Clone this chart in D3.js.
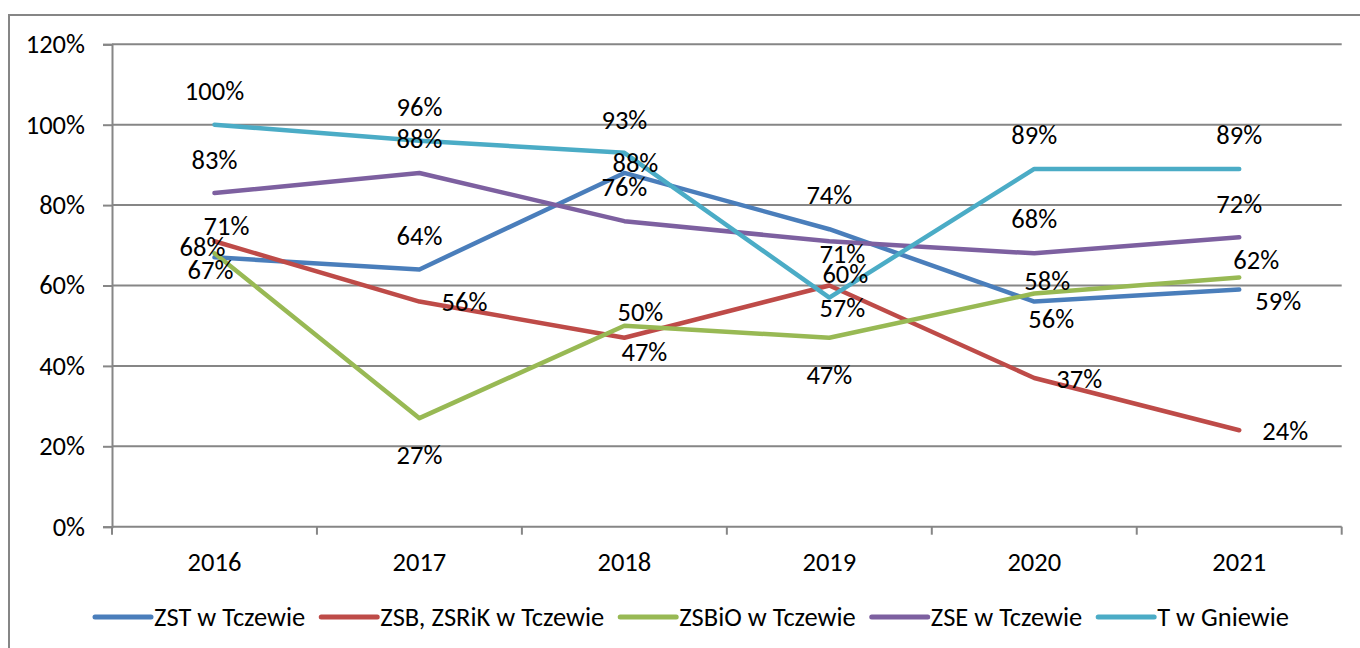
<!DOCTYPE html>
<html>
<head>
<meta charset="utf-8">
<script src="https://cdn.jsdelivr.net/npm/d3@7"></script>
<style>
  html, body { margin: 0; padding: 0; background: #fff; }
  svg { display: block; font-family: Carlito, Calibri, Lato, sans-serif; }
</style>
</head>
<body>
<div id="chart"></div>
<script>
// data
const years = ["2016", "2017", "2018", "2019", "2020", "2021"];
const seriesNames = ["ZST w Tczewie", "ZSB, ZSRiK w Tczewie", "ZSBiO w Tczewie", "ZSE w Tczewie", "T w Gniewie"];
const zst   = [0.67, 0.64, 0.88, 0.74, 0.56, 0.59];
const zsb   = [0.71, 0.56, 0.47, 0.60, 0.37, 0.24];
const zsbio = [0.68, 0.27, 0.50, 0.47, 0.58, 0.62];
const zse   = [0.83, 0.88, 0.76, 0.71, 0.68, 0.72];
const tgn   = [1.00, 0.96, 0.93, 0.57, 0.89, 0.89];
const yTicks = [0, 0.2, 0.4, 0.6, 0.8, 1.0, 1.2];

const colors = ["#4A7EBB", "#BE4B48", "#98B954", "#7D60A0", "#4BACC6"];
// where each data label sits relative to its point (text centre, px)
const labelNudge = [
  [[-4, 13], [0, -33], [11, -10], [0, -34], [17, 17], [39, 11]],
  [[12, -15], [45, 0], [20, 14], [16, -12], [45, 1], [46, 1]],
  [[-12, -6], [0, 37], [16, -14], [0, 37], [13, -13], [17, -17]],
  [[0, -33], [0, -34], [0, -34], [13, 13], [0, -34], [0, -33]],
  [[0, -34], [0, -34], [0, -33], [13, 10], [0, -34], [0, -34]]
];

const series = [zst, zsb, zsbio, zse, tgn].map((vals, i) => ({
  name: seriesNames[i],
  color: colors[i],
  values: vals.map((v, j) => ({ year: years[j], value: v }))
}));

const W = 1360, H = 648;
const fontSize = 26.5;
const plot = { left: 112, right: 1341.7, top: 44.3, bottom: 526.7 };

const svg = d3.select("#chart").append("svg")
  .attr("width", W)
  .attr("height", H);

// outer chart border (right/bottom edges fall outside the picture)
svg.append("rect")
  .attr("x", 9).attr("y", 15)
  .attr("width", 1400).attr("height", 700)
  .attr("fill", "none")
  .attr("stroke", "#868686")
  .attr("stroke-width", 2);

const x = d3.scaleBand()
  .domain(years)
  .range([plot.left, plot.right])
  .padding(0);

const y = d3.scaleLinear()
  .domain([0, 1.2])
  .range([plot.bottom, plot.top]);

const cx = d => x(d) + x.bandwidth() / 2;

// gridlines
svg.append("g")
  .selectAll("line")
  .data(yTicks.filter(t => t > 0))
  .join("line")
  .attr("x1", plot.left).attr("x2", plot.right)
  .attr("y1", d => y(d)).attr("y2", d => y(d))
  .attr("stroke", "#868686")
  .attr("stroke-width", 2);

// y axis
const yAxis = svg.append("g")
  .attr("transform", `translate(${plot.left},0)`)
  .call(d3.axisLeft(y).tickValues(yTicks).tickFormat(d3.format(".0%")).tickSize(9).tickPadding(18));
yAxis.select(".domain").attr("stroke", "#868686").attr("stroke-width", 2);
yAxis.selectAll(".tick line").attr("stroke", "#868686").attr("stroke-width", 2);
yAxis.selectAll("text")
  .attr("fill", "#000")
  .style("font-size", fontSize + "px")
  .style("font-family", "Carlito, Calibri, Lato, sans-serif");

// x axis: ticks on band boundaries
const xAxis = svg.append("g")
  .attr("transform", `translate(0,${plot.bottom})`);
xAxis.append("line")
  .attr("x1", plot.left).attr("x2", plot.right)
  .attr("stroke", "#868686").attr("stroke-width", 2);
xAxis.selectAll("line.tick")
  .data(years.concat(["end"]))
  .join("line")
  .attr("class", "tick")
  .attr("x1", d => d === "end" ? plot.right : x(d))
  .attr("x2", d => d === "end" ? plot.right : x(d))
  .attr("y1", 0).attr("y2", 8)
  .attr("stroke", "#868686").attr("stroke-width", 2);
xAxis.selectAll("text")
  .data(years)
  .join("text")
  .attr("x", d => cx(d))
  .attr("y", 35)
  .attr("text-anchor", "middle")
  .attr("dominant-baseline", "central")
  .style("font-size", fontSize + "px")
  .text(d => d);

// lines
const line = d3.line()
  .x(d => cx(d.year))
  .y(d => y(d.value));

svg.append("g")
  .selectAll("path")
  .data(series)
  .join("path")
  .attr("d", d => line(d.values))
  .attr("fill", "none")
  .attr("stroke", d => d.color)
  .attr("stroke-width", 4.5)
  .attr("stroke-linejoin", "round")
  .attr("stroke-linecap", "round");

// data labels
const fmt = d3.format(".0%");
series.forEach((s, i) => {
  svg.append("g")
    .selectAll("text")
    .data(s.values)
    .join("text")
    .attr("x", (d, j) => cx(d.year) + labelNudge[i][j][0])
    .attr("y", (d, j) => y(d.value) + labelNudge[i][j][1])
    .attr("text-anchor", "middle")
    .attr("dominant-baseline", "central")
    .attr("fill", "#000")
    .style("font-size", fontSize + "px")
    .text(d => fmt(d.value));
});

// legend
const legend = svg.append("g").attr("transform", "translate(0,617)");
const lineW = 56, lineGap = 3, itemGap = 16;
const items = legend.selectAll("g")
  .data(series)
  .join("g");
items.append("line")
  .attr("x1", 0).attr("x2", lineW)
  .attr("stroke", d => d.color)
  .attr("stroke-width", 5)
  .attr("stroke-linecap", "round");
items.append("text")
  .attr("x", lineW + lineGap)
  .attr("dominant-baseline", "central")
  .style("font-size", fontSize + "px")
  .text(d => d.name);

let widths = [];
items.each(function() {
  widths.push(lineW + lineGap + d3.select(this).select("text").node().getComputedTextLength());
});
const total = d3.sum(widths) + itemGap * (widths.length - 1);
let pos = 692 - total / 2;
items.attr("transform", (d, i) => {
  const t = `translate(${pos},0)`;
  pos += widths[i] + itemGap;
  return t;
});
</script>
</body>
</html>
